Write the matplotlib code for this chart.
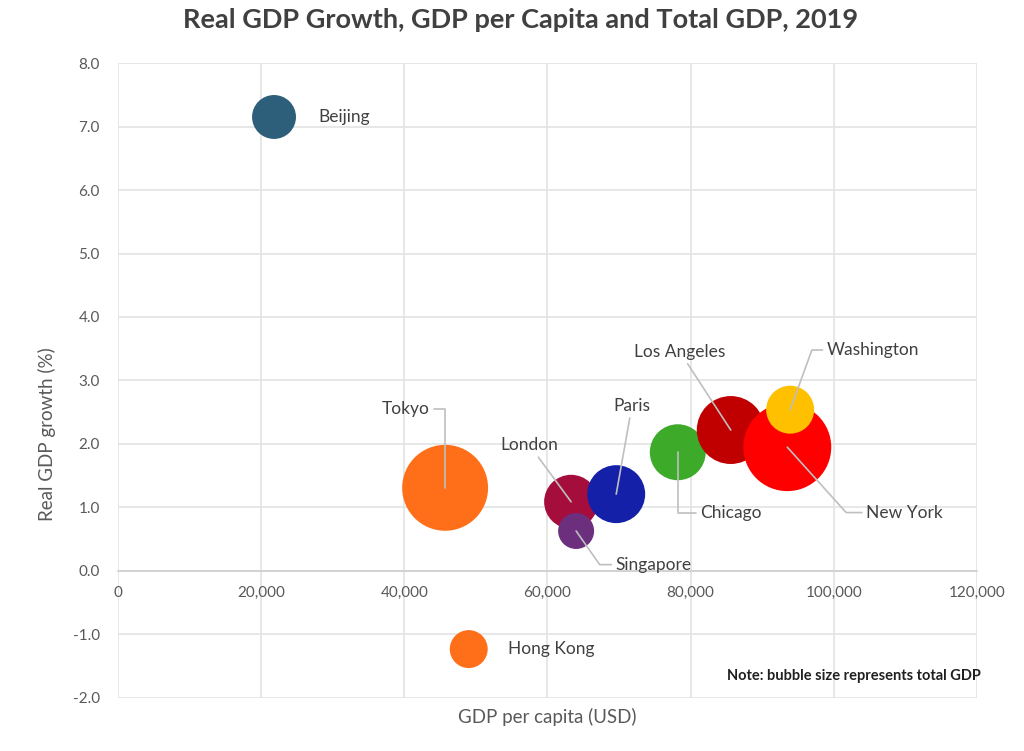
import matplotlib
matplotlib.use('agg')
import matplotlib.pyplot as plt
import numpy as np

plt.rcParams['font.family'] = ['Lato', 'DejaVu Sans']

# (GDP per capita in USD, real growth in %, total GDP in USD bn)
cities = ['Beijing', 'Tokyo', 'Hong Kong', 'London', 'Singapore', 'Paris',
          'Chicago', 'Los Angeles', 'New York', 'Washington']
gdp_per_capita = [21800, 45700, 49000, 63300, 64000, 69600, 78200, 85600, 93500, 93900]
gdp_growth = [7.15, 1.31, -1.23, 1.09, 0.63, 1.21, 1.87, 2.22, 1.95, 2.54]
total_gdp = [437, 1671, 326, 659, 293, 760, 709, 1045, 1750, 521]
colors = ['#2E5F7A', '#FF6F1A', '#FF6F1A', '#A50D3C', '#6B2F7D', '#1420A8',
          '#3DAA2A', '#C00000', '#FF0000', '#FFC000']

# label position (data coords), alignment, connection style (None = no leader line)
labels = {
    'Beijing': ((28000, 7.15), 'left', None),
    'Tokyo': ((43500, 2.55), 'right', 'angle,angleA=0,angleB=90,rad=0'),
    'Hong Kong': ((54500, -1.23), 'left', None),
    'London': ((57500, 1.98), 'center', 'arc3'),
    'Paris': ((71800, 2.6), 'center', 'arc3'),
    'Los Angeles': ((78500, 3.45), 'center', 'arc3'),
    'Washington': ((99000, 3.48), 'left', 'angle,angleA=0,angleB=70,rad=0'),
    'Chicago': ((81300, 0.92), 'left', 'angle,angleA=0,angleB=90,rad=0'),
    'New York': ((104500, 0.92), 'left', 'angle,angleA=0,angleB=-48,rad=0'),
    'Singapore': ((69500, 0.1), 'left', 'angle,angleA=0,angleB=-55,rad=0'),
}

fig = plt.figure(figsize=(10.24, 7.51), dpi=100)
ax = fig.add_axes([0.1152, 0.0706, 0.8389, 0.8455])

size_scale = 2.29
ax.scatter(gdp_per_capita, gdp_growth, s=np.array(total_gdp) * size_scale,
           c=colors, edgecolors='none', zorder=2)

for name, x, y in zip(cities, gdp_per_capita, gdp_growth):
    pos, ha, conn = labels[name]
    if conn is None:
        ax.text(pos[0], pos[1], name, ha=ha, va='center', fontsize=12.5, color='#404040', zorder=4)
    else:
        ax.annotate(name, xy=(x, y), xytext=pos, ha=ha, va='center', fontsize=12.5,
                    color='#404040', zorder=4,
                    arrowprops=dict(arrowstyle='-', color='#BFBFBF', lw=1.2,
                                    connectionstyle=conn, shrinkA=1, shrinkB=0))

ax.set_xlim(0, 120000)
ax.set_ylim(-2, 8)
ax.set_xticks(np.arange(0, 120001, 20000))
ax.set_yticks(np.arange(-2, 8.01, 1))
ax.set_xticklabels([f'{v:,}' for v in range(0, 120001, 20000)])
ax.set_yticklabels([f'{v:.1f}' for v in np.arange(-2, 8.01, 1)])
ax.grid(True, color='#E3E3E3', lw=1.2, zorder=0)
ax.set_axisbelow(True)

for s in ['top', 'right', 'left']:
    ax.spines[s].set_visible(False)
ax.spines['bottom'].set_position(('data', 0))
ax.spines['bottom'].set_color('#D0D0D0')
ax.spines['bottom'].set_linewidth(1.2)
ax.tick_params(axis='both', length=0, labelsize=11, labelcolor='#595959')
ax.tick_params(axis='x', pad=11)
ax.tick_params(axis='y', pad=13)

ax.set_ylabel('Real GDP growth (%)', fontsize=13.5, color='#595959')
ax.yaxis.set_label_coords(-0.072, 0.415)
ax.text(0.5, -0.03, 'GDP per capita (USD)', transform=ax.transAxes, ha='center',
        va='center', fontsize=13.5, color='#595959')

ax.text(1.004, 0.035, 'Note: bubble size represents total GDP', transform=ax.transAxes,
        ha='right', va='center', fontsize=10.5, fontweight='bold', color='#202020')

fig.text(0.508, 0.973, 'Real GDP Growth, GDP per Capita and Total GDP, 2019',
         ha='center', va='center', fontsize=19.5, fontweight='bold', color='#404040')

fig.savefig('out.png', dpi=100)
